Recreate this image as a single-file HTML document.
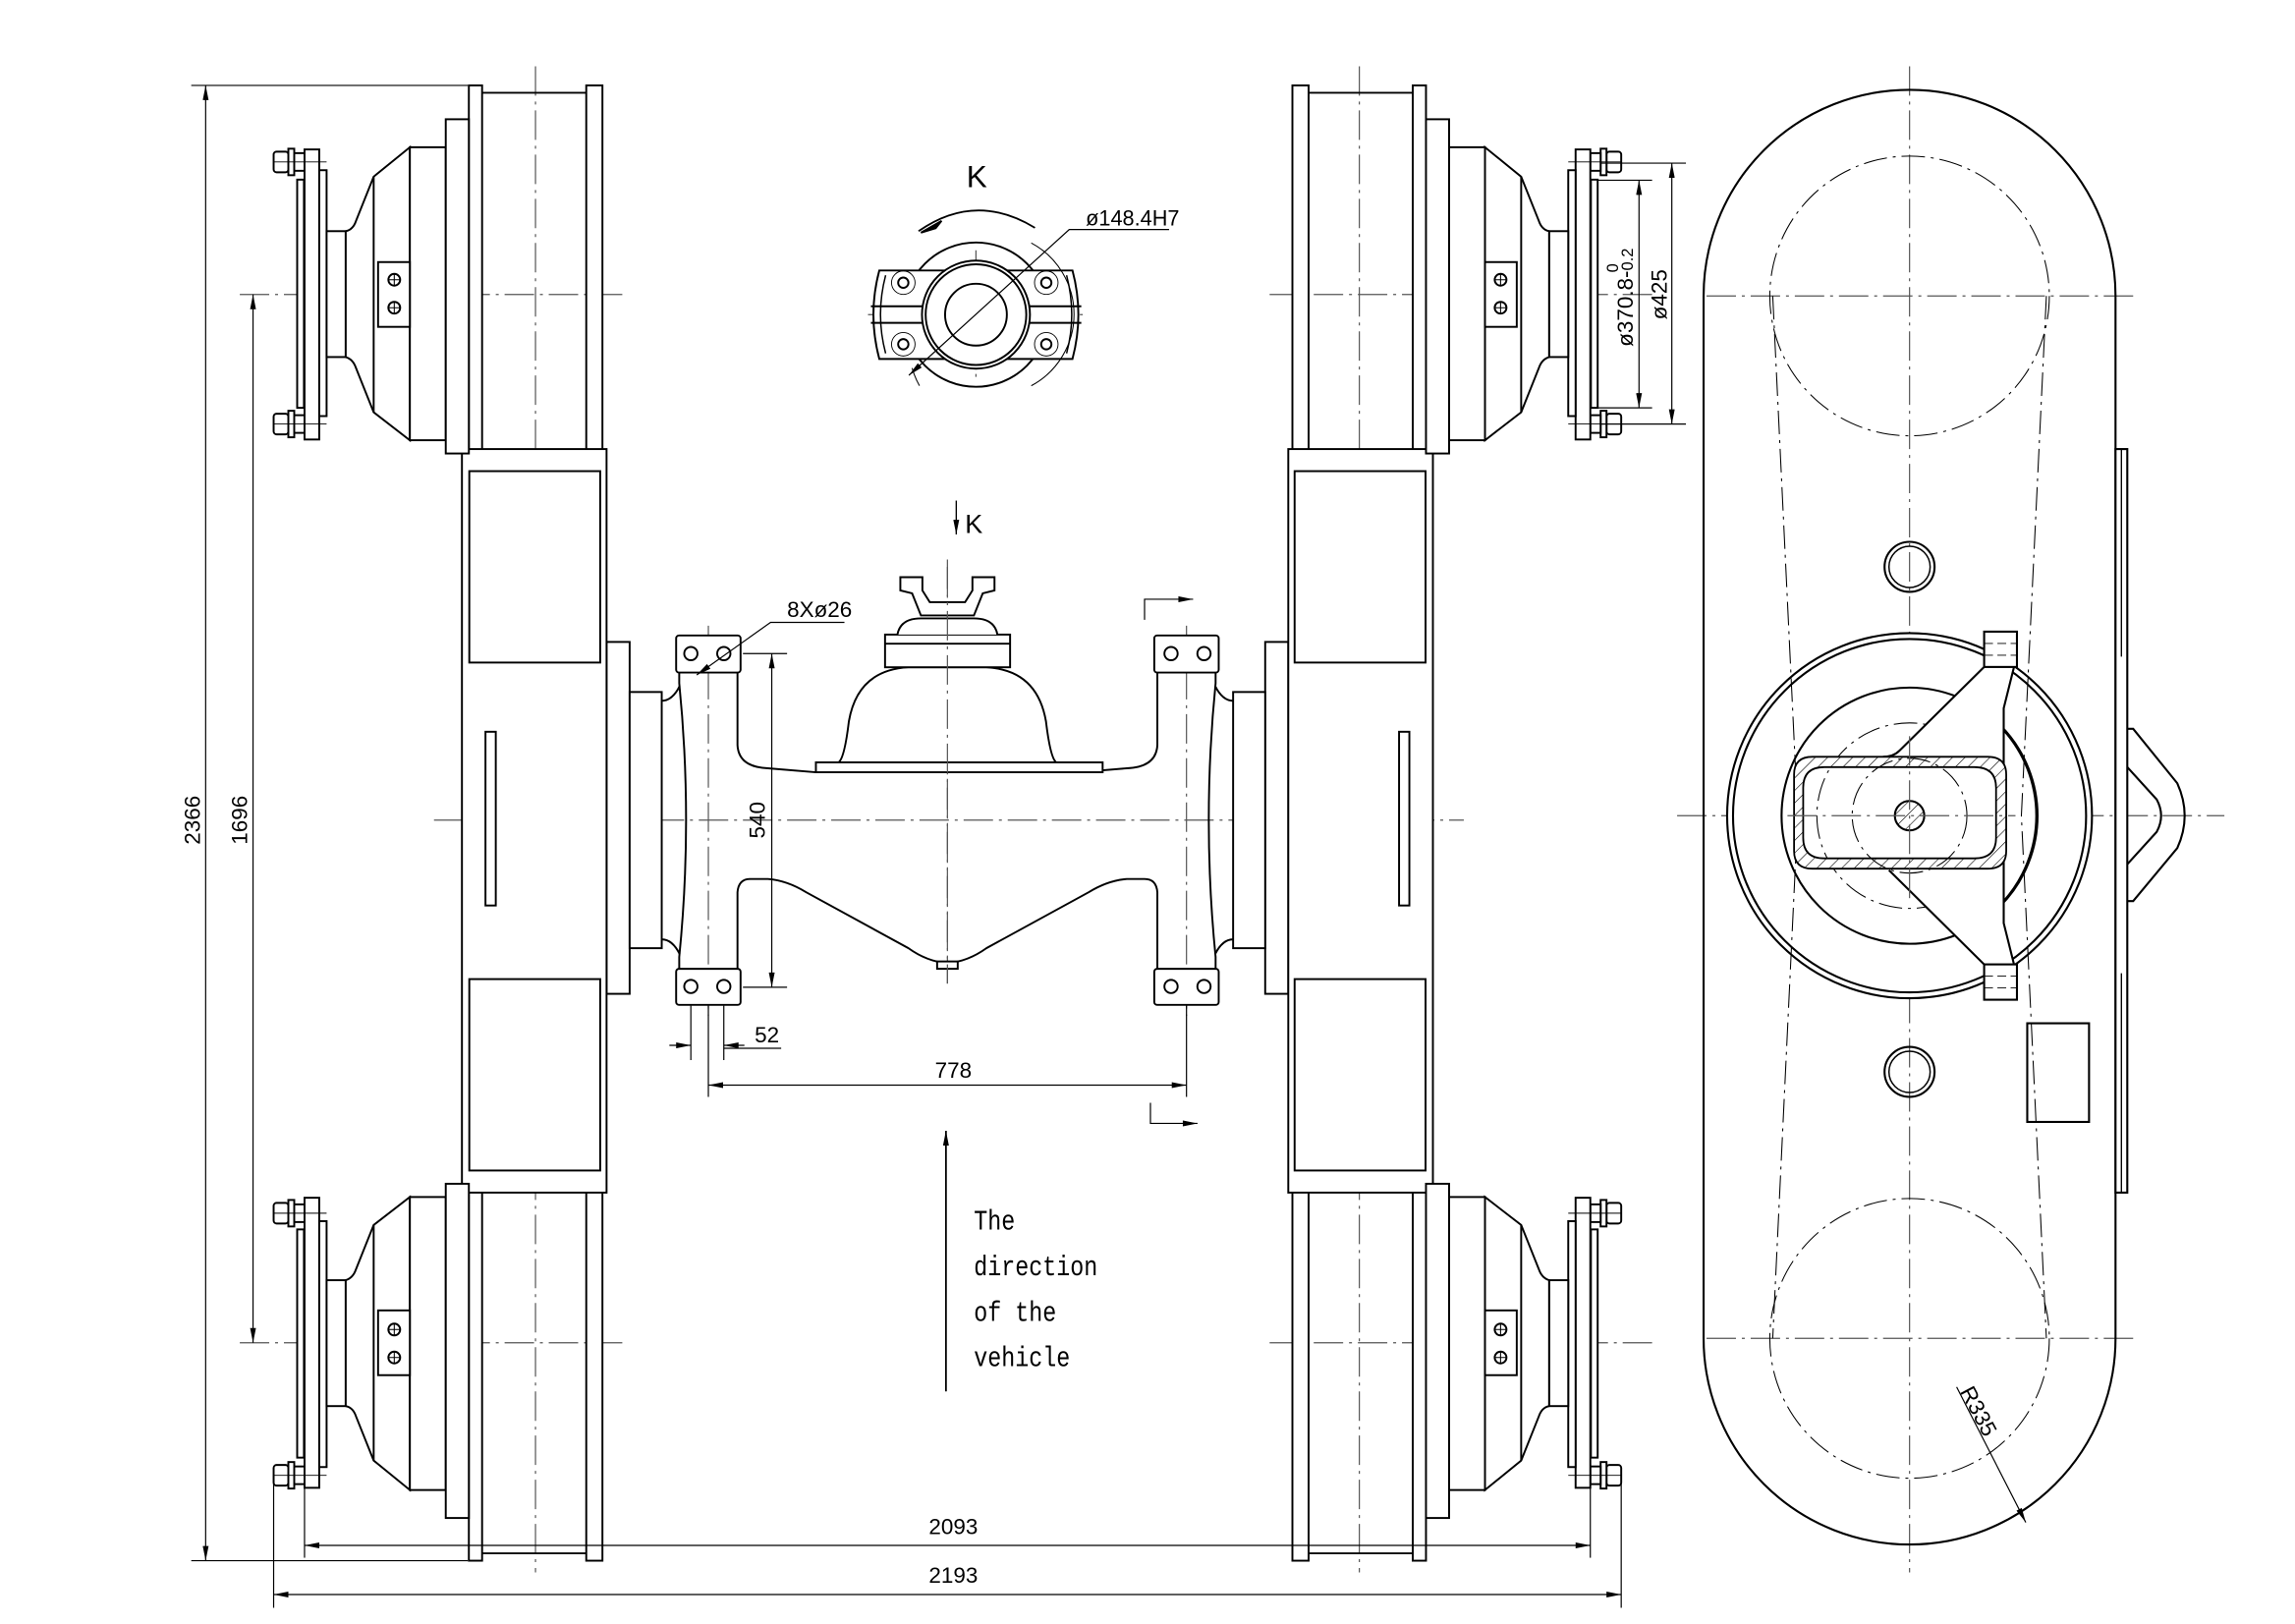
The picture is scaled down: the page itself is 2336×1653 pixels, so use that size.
<!DOCTYPE html>
<html><head><meta charset="utf-8"><style>
html,body{margin:0;padding:0;background:#fff;}
svg{display:block;}
text{font-family:"Liberation Sans Narrow","Liberation Sans",sans-serif;fill:#000;}
</style></head><body>
<svg width="2336" height="1653" viewBox="0 0 1560 1103" preserveAspectRatio="none" xmlns="http://www.w3.org/2000/svg">
<defs>
<pattern id="h" patternUnits="userSpaceOnUse" width="6" height="6" patternTransform="rotate(45)">
<rect width="6" height="6" fill="#fff"/><line x1="0" y1="0" x2="0" y2="6" stroke="#000" stroke-width="0.8"/>
</pattern>
<marker id="a" viewBox="0 0 10 4" refX="10" refY="2" markerWidth="12" markerHeight="4" markerUnits="userSpaceOnUse" orient="auto-start-reverse"><path d="M0 0 L10 2 L0 4 Z" fill="#000"/></marker>
<g id="hub" fill="#fff" stroke="#000" stroke-width="1.3">
 <rect x="186" y="103" width="10" height="14" rx="2"/><rect x="196" y="101" width="4" height="18"/><rect x="200" y="104" width="7" height="12"/>
 <rect x="186" y="281" width="10" height="14" rx="2"/><rect x="196" y="279" width="4" height="18"/><rect x="200" y="282" width="7" height="12"/>
 <rect x="202" y="122" width="4.6" height="155"/>
 <rect x="207" y="101.5" width="10" height="197"/>
 <rect x="217" y="115.6" width="5" height="167"/>
 <rect x="222" y="157" width="13" height="85.5"/>
 <path d="M235 157 Q240 156 242 150 L254 120 L278.6 100 L278.6 299 L254 280 L242 250 Q240 244 235 242.5 Z"/>
 <line x1="254" y1="120" x2="254" y2="280"/>
 <rect x="278.6" y="100" width="24.4" height="199"/>
 <rect x="257" y="178" width="21.6" height="44"/>
 <circle cx="268" cy="190" r="4"/><circle cx="268" cy="209" r="4"/>
 <path d="M264 190 h8 M268 186 v8 M264 209 h8 M268 205 v8" stroke-width="0.7"/>
 <rect x="303" y="81" width="15.7" height="227"/>
 <line x1="186" y1="110" x2="222" y2="110" stroke-width="0.6"/><line x1="186" y1="288" x2="222" y2="288" stroke-width="0.6"/>
</g>
<g id="side" stroke="#000" stroke-width="1.3" fill="#fff">
 <rect x="318.7" y="58" width="9" height="1002"/>
 <rect x="398.5" y="58" width="11" height="1002"/>
 <line x1="327.7" y1="63" x2="398.5" y2="63"/><line x1="327.7" y1="1055" x2="398.5" y2="1055"/>
 <rect x="412.3" y="436" width="15.7" height="239"/>
 <rect x="314" y="305" width="98.3" height="505"/>
 <rect x="319" y="320" width="89" height="130"/>
 <rect x="319" y="665" width="89" height="130"/>
 <rect x="330" y="497" width="7" height="118"/>
 <use href="#hub"/>
 <use href="#hub" transform="translate(0,1112) scale(1,-1)"/>
</g>
<g id="axh" stroke="#000" stroke-width="1.3" fill="none">
 <rect x="428" y="470" width="21.8" height="174" fill="#fff"/>
 <rect x="459.6" y="431.6" width="43.8" height="25.2" rx="2" fill="#fff"/>
 <rect x="459.6" y="658" width="43.8" height="24.5" rx="2" fill="#fff"/>
 <circle cx="469.6" cy="443.9" r="4.5"/><circle cx="492" cy="443.9" r="4.5"/>
 <circle cx="469.6" cy="670" r="4.5"/><circle cx="492" cy="670" r="4.5"/>
 <path d="M461.7 456.8 L461.7 464 Q471 557 461.7 650 L461.7 658"/>
 <path d="M449.8 476 Q457 476 462 466 M449.8 638 Q457 638 462 648"/>
 <path d="M501.3 456.8 L501.3 506 Q502 521 522 521.8 L554.6 524.5"/>
 <path d="M501.3 658 L501.3 606 Q502 597 510 597 L522 597 Q535 598 548 606 L617.5 644 Q630 653 644 654.2"/>
</g>
</defs>

<g stroke="#555" stroke-width="0.8" stroke-dasharray="20 4 2 4" fill="none">
 <line x1="364" y1="45" x2="364" y2="1068"/><line x1="924" y1="45" x2="924" y2="1068"/>
 <line x1="295" y1="557" x2="995" y2="557"/>
 <line x1="163" y1="200" x2="425" y2="200"/><line x1="163" y1="912" x2="425" y2="912"/>
 <line x1="863" y1="200" x2="1125" y2="200"/><line x1="863" y1="912" x2="1125" y2="912"/>
 <line x1="644" y1="380" x2="644" y2="668"/>
 <line x1="481.5" y1="425" x2="481.5" y2="690"/><line x1="806.5" y1="425" x2="806.5" y2="690"/>
 <line x1="1298" y1="45" x2="1298" y2="1068"/>
 <line x1="1140" y1="554" x2="1512" y2="554"/>
 <line x1="1160" y1="201" x2="1450" y2="201"/><line x1="1160" y1="909" x2="1450" y2="909"/>
 <line x1="663.4" y1="170" x2="663.4" y2="260"/><line x1="590" y1="213.7" x2="737" y2="213.7"/>
</g>

<use href="#side"/>
<use href="#side" transform="translate(1288,0) scale(-1,1)"/>
<use href="#axh"/>
<use href="#axh" transform="translate(1288,0) scale(-1,1)"/>

<g stroke="#000" stroke-width="1.3" fill="#fff">
 <path d="M570 517.8 Q574 515 577 490 Q583 455 617.5 453.2 L670.5 453.2 Q705 455 711 490 Q714 515 718 517.8 Z"/>
 <rect x="554.6" y="517.8" width="194.9" height="6.7"/>
 <rect x="601.6" y="431" width="85" height="22.2"/>
 <line x1="601.6" y1="437.2" x2="686.6" y2="437.2"/>
 <path d="M610 431 Q612 420 626 420 L662 420 Q676 420 678 431"/>
 <path d="M612 392 L627 392 L627 401 L632 409 L656 409 L661 401 L661 392 L676 392 L676 401 L668 403 L662 418 L626 418 L620 403 L612 401 Z"/>
 <rect x="637" y="653" width="14" height="5"/>
</g>
<line x1="644" y1="385" x2="644" y2="668" stroke="#555" stroke-width="0.8" stroke-dasharray="20 4 2 4"/>

<g stroke="#000" stroke-width="1.3" fill="none">
 <circle cx="663.4" cy="213.7" r="49"/>
 <path d="M597.7 183.7 L729 183.7 Q737 213.7 729 243.8 L597.7 243.8 Q589.7 213.7 597.7 183.7 Z" fill="#fff"/>
 <path d="M602 187 Q595 213.7 602 240 M725 187 Q732 213.7 725 240" stroke-width="1"/>
 <line x1="592" y1="208" x2="735" y2="208"/><line x1="592" y1="219.3" x2="735" y2="219.3"/>
 <circle cx="663.4" cy="213.7" r="36.7" fill="#fff"/>
 <circle cx="663.4" cy="213.7" r="34.2"/>
 <circle cx="663.4" cy="213.7" r="21"/>
 <circle cx="614" cy="192" r="3.5"/><circle cx="711.2" cy="192" r="3.5"/><circle cx="614" cy="233.8" r="3.5"/><circle cx="711.2" cy="233.8" r="3.5"/>
 <g stroke-width="0.6"><circle cx="614" cy="192" r="8"/><circle cx="711.2" cy="192" r="8"/><circle cx="614" cy="233.8" r="8"/><circle cx="711.2" cy="233.8" r="8"/></g>
 <path d="M624.4 157 Q663 130 703.5 154.7" stroke-width="1.2"/>
 <path d="M626 158 L640 150 L636 155 Z" fill="#000"/>
 <path d="M701 165 A55 55 0 0 1 701 262 M625 262 A55 55 0 0 1 620 250" stroke-width="0.7"/>
 <path d="M617.8 254.9 L726.8 155.9 L794.7 155.9" stroke-width="0.8" marker-start="url(#a)"/>
</g>
<text x="664" y="127" font-size="21" text-anchor="middle">K</text>
<text x="738" y="153" font-size="14.5">ø148.4H7</text>

<line x1="650" y1="340" x2="650" y2="363" stroke="#000" stroke-width="0.9" marker-end="url(#a)"/>
<text x="656" y="362" font-size="18">K</text>

<g stroke="#000" stroke-width="0.8" fill="none">
 <line x1="130" y1="58" x2="318" y2="58"/><line x1="130" y1="1060" x2="318" y2="1060"/>
 <line x1="139.8" y1="58" x2="139.8" y2="1060" marker-start="url(#a)" marker-end="url(#a)"/>
 <line x1="172" y1="200" x2="172" y2="912" marker-start="url(#a)" marker-end="url(#a)"/>
 <line x1="207" y1="1002" x2="207" y2="1058"/><line x1="186" y1="1002" x2="186" y2="1092"/>
 <line x1="1081" y1="1002" x2="1081" y2="1058"/><line x1="1102" y1="1002" x2="1102" y2="1092"/>
 <line x1="207" y1="1049.6" x2="1081" y2="1049.6" marker-start="url(#a)" marker-end="url(#a)"/>
 <line x1="186" y1="1083" x2="1102" y2="1083" marker-start="url(#a)" marker-end="url(#a)"/>
 <line x1="505" y1="443.9" x2="535" y2="443.9"/><line x1="505" y1="670.5" x2="535" y2="670.5"/>
 <line x1="524.6" y1="443.9" x2="524.6" y2="670.5" marker-start="url(#a)" marker-end="url(#a)"/>
 <line x1="469.6" y1="683" x2="469.6" y2="720"/><line x1="492" y1="683" x2="492" y2="720"/>
 <line x1="455" y1="710" x2="469.6" y2="710" marker-end="url(#a)"/>
 <line x1="506" y1="710" x2="492" y2="710" marker-end="url(#a)"/>
 <line x1="492" y1="712" x2="531" y2="712"/>
 <line x1="481.5" y1="683" x2="481.5" y2="745"/><line x1="806.5" y1="683" x2="806.5" y2="745"/>
 <line x1="481.5" y1="737" x2="806.5" y2="737" marker-start="url(#a)" marker-end="url(#a)"/>
 <path d="M473.6 458.4 L523.8 422.7 L574 422.7" marker-start="url(#a)"/>
 <path d="M778 421 L778 407 L811 407" marker-end="url(#a)"/>
 <path d="M782 749 L782 763 L814 763" marker-end="url(#a)"/>
 <line x1="643" y1="945" x2="643" y2="768" stroke-width="1.2" marker-end="url(#a)"/>
 <line x1="1088" y1="110.8" x2="1146" y2="110.8"/><line x1="1088" y1="288" x2="1146" y2="288"/>
 <line x1="1086" y1="122.4" x2="1123" y2="122.4"/><line x1="1086" y1="277" x2="1123" y2="277"/>
 <line x1="1136.4" y1="110.8" x2="1136.4" y2="288" marker-start="url(#a)" marker-end="url(#a)"/>
 <line x1="1114.1" y1="122.4" x2="1114.1" y2="277" marker-start="url(#a)" marker-end="url(#a)"/>
 <line x1="1330" y1="942" x2="1377" y2="1034" marker-end="url(#a)"/>
</g>
<g font-size="15">
 <text transform="translate(136,557) rotate(-90)" text-anchor="middle">2366</text>
 <text transform="translate(168,557) rotate(-90)" text-anchor="middle">1696</text>
 <text x="648" y="1042" text-anchor="middle">2093</text>
 <text x="648" y="1075" text-anchor="middle">2193</text>
 <text transform="translate(520,557) rotate(-90)" text-anchor="middle">540</text>
 <text x="513" y="708">52</text>
 <text x="648" y="732" text-anchor="middle">778</text>
 <text x="535" y="419">8Xø26</text>
 <text transform="translate(1133,200) rotate(-90)" text-anchor="middle">ø425</text>
 <text transform="translate(1110,202) rotate(-90)" text-anchor="middle">ø370.8-<tspan font-size="11">0.2</tspan></text>
 <text transform="translate(1100,182) rotate(-90)" text-anchor="middle" font-size="11">0</text>
 <text transform="translate(1332,945) rotate(62)">R335</text>
</g>
<g transform="translate(662,0) scale(0.82,1)" font-size="19">
 <text x="0" y="835" style="font-family:'Liberation Mono',monospace">The</text>
 <text x="0" y="866" style="font-family:'Liberation Mono',monospace">direction</text>
 <text x="0" y="897" style="font-family:'Liberation Mono',monospace">of the</text>
 <text x="0" y="928" style="font-family:'Liberation Mono',monospace">vehicle</text>
</g>

<g stroke="#000" stroke-width="1.4" fill="none">
 <path d="M1158 201 A140 140 0 0 1 1438 201 L1438 909 A140 140 0 0 1 1158 909 Z"/>
 <rect x="1438" y="305" width="8" height="505" fill="#fff"/>
 <path d="M1442 305 L1442 446 M1442 661 L1442 810" stroke-width="0.9"/>
 <path d="M1446 495 L1450 495 L1480 532 Q1490 554 1480 576 L1450 612 L1446 612"/>
 <path d="M1446 521 L1466 543 Q1472 554 1466 565 L1446 587"/>
 <rect x="1378" y="695" width="42" height="67"/>
 <circle cx="1298" cy="385" r="17"/><circle cx="1298" cy="385" r="14" stroke-width="1"/>
 <circle cx="1298" cy="728" r="17"/><circle cx="1298" cy="728" r="14" stroke-width="1"/>
 <circle cx="1298" cy="554" r="124" fill="#fff"/>
 <circle cx="1298" cy="554" r="120"/>
 <circle cx="1298" cy="554" r="87"/>
</g>
<g stroke="#000" stroke-width="0.7" fill="none" stroke-dasharray="16 4 2 4">
 <circle cx="1298" cy="201" r="95"/><circle cx="1298" cy="909" r="95"/>
 <path d="M1205 201 L1222 554 L1205 909 M1391 201 L1374 554 L1391 909"/>
 <circle cx="1298" cy="554" r="63"/>
</g>
<g fill="#fff" stroke="none">
 <path d="M1348.7 453 L1369 453 L1362 481 L1362 514 L1282 514 L1291 510 Z"/>
 <rect x="1356" y="512" width="7" height="80"/>
 <path d="M1284 590 L1362 590 L1362 627 L1369 655 L1348.7 655 Z"/>
</g>
<g stroke="#000" stroke-width="1.4" fill="none">
 <path d="M1348.7 453 L1291 510 Q1287 514 1280 514"/>
 <path d="M1369 453 L1362 481 L1362 627 L1369 655"/>
 <path d="M1284 591 L1348.7 655"/>
 <path d="M1362 496 A87 87 0 0 1 1362 612"/>
 <rect x="1348.7" y="429" width="22.3" height="24" fill="#fff"/>
 <rect x="1348.7" y="655" width="22.3" height="24" fill="#fff"/>
 <path d="M1219.5 526 Q1219.5 514 1232 514 L1351 514 Q1363.7 514 1363.7 526 L1363.7 578 Q1363.7 590 1351 590 L1232 590 Q1219.5 590 1219.5 578 Z M1240 521 Q1225.7 521 1225.7 535 L1225.7 569 Q1225.7 583 1240 583 L1342 583 Q1356.8 583 1356.8 569 L1356.8 535 Q1356.8 521 1342 521 Z" fill="url(#h)" fill-rule="evenodd" stroke-width="1.2"/>
 <circle cx="1298" cy="554" r="10" fill="url(#h)"/>
 <path d="M1348.7 437 h22 M1348.7 445 h22 M1348.7 663 h22 M1348.7 671 h22" stroke-width="0.6" stroke-dasharray="6 3"/>
</g>
<circle cx="1298" cy="554" r="39" stroke="#000" stroke-width="0.7" fill="none" stroke-dasharray="16 4 2 4"/>
<line x1="1298" y1="500" x2="1298" y2="610" stroke="#555" stroke-width="0.8" stroke-dasharray="20 4 2 4"/>
<line x1="1215" y1="554" x2="1370" y2="554" stroke="#555" stroke-width="0.8" stroke-dasharray="20 4 2 4"/>
</svg>
</body></html>
